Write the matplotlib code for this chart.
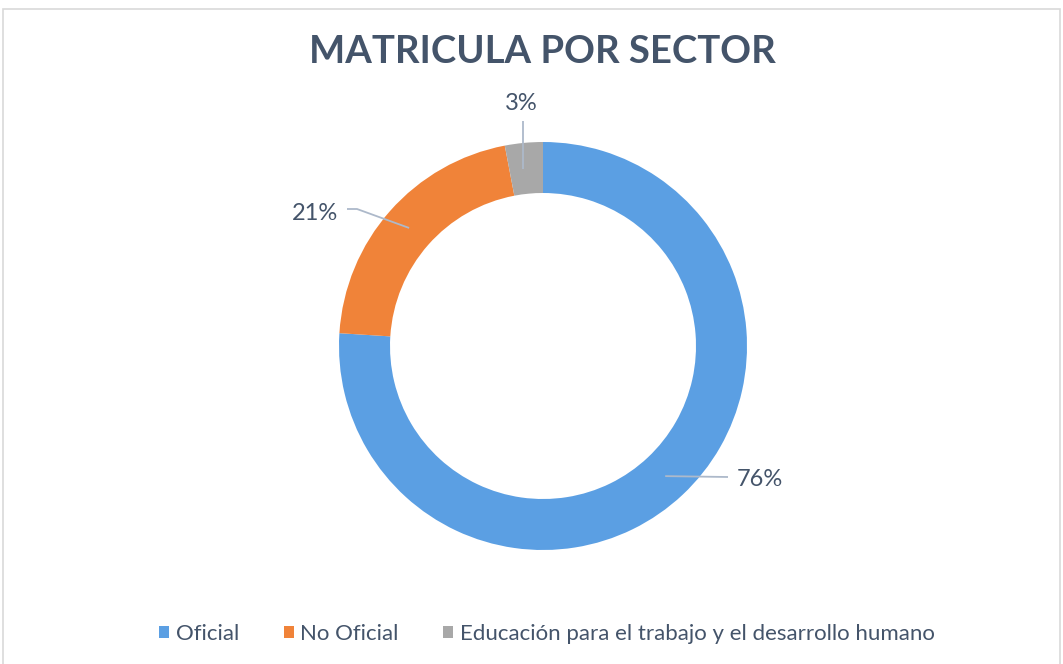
import matplotlib
matplotlib.use("Agg")
import matplotlib.pyplot as plt
from matplotlib.patches import Rectangle
import numpy as np

plt.rcParams["font.family"] = ["Lato", "DejaVu Sans"]

# ── Data ─────────────────────────────────────────────
categories = ["Oficial", "No Oficial", "Educación para el trabajo y el desarrollo humano"]
shares     = [76, 21, 3]
labels     = ["76%", "21%", "3%"]
colors     = ["#5B9FE3", "#F08339", "#A8A8A8"]

title      = "MATRICULA POR SECTOR"
text_color = "#44546A"
line_color = "#ADB9CA"

# ── Figure in pixel coordinates ──────────────────────
W, H = 1063, 664
fig = plt.figure(figsize=(W / 100, H / 100), dpi=100)
ax = fig.add_axes([0, 0, 1, 1])

# chart area border
ax.add_patch(Rectangle((3, -10), 1057, H - 9 + 10, fill=False,
                       edgecolor="#D9D9D9", linewidth=1.2))

cx, cy, R, ring = 543, H - 346, 204, 51
wedges, _ = ax.pie(shares, startangle=90, counterclock=False,
                   radius=R, center=(cx, cy), colors=colors,
                   wedgeprops=dict(width=ring, linewidth=0),
                   frame=True)
ax.set_xlim(0, W)
ax.set_ylim(0, H)
ax.set_aspect("equal")
ax.axis("off")

# data labels with leader lines (label pos / elbow in pixels)
label_pos = [(737, H - 479, "left"), (338, H - 213, "right"), (521, H - 104, "center")]
elbows    = [[(728, H - 477)],
             [(357, H - 209), (347, H - 209)],
             [(523, H - 121)]]
r_mid = R - ring / 2
for w, lab, (lx, ly, ha), elb in zip(wedges, labels, label_pos, elbows):
    ang = np.deg2rad((w.theta1 + w.theta2) / 2)
    sx, sy = cx + r_mid * np.cos(ang), cy + r_mid * np.sin(ang)
    if ha == "center":
        sx = elb[0][0]
        sy = cy + np.sqrt(r_mid**2 - (sx - cx)**2)
    pts = [(sx, sy)] + elb
    xs, ys = zip(*pts)
    ax.plot(xs, ys, color=line_color, linewidth=1.3, solid_capstyle="butt")
    ax.text(lx, ly, lab, ha=ha, va="center", fontsize=17, color=text_color)

ax.text(542, H - 52, title, ha="center", va="center", fontsize=27.5,
        fontweight="bold", color=text_color)

# legend
fig.legend(wedges, categories, loc="center", bbox_to_anchor=(547 / W, 1 - 634 / H),
           ncol=3, frameon=False, fontsize=16, labelcolor=text_color,
           handlelength=0.45, handleheight=0.45, handletextpad=0.3,
           columnspacing=2.0)

fig.savefig("out.png", dpi=100, facecolor="white")
